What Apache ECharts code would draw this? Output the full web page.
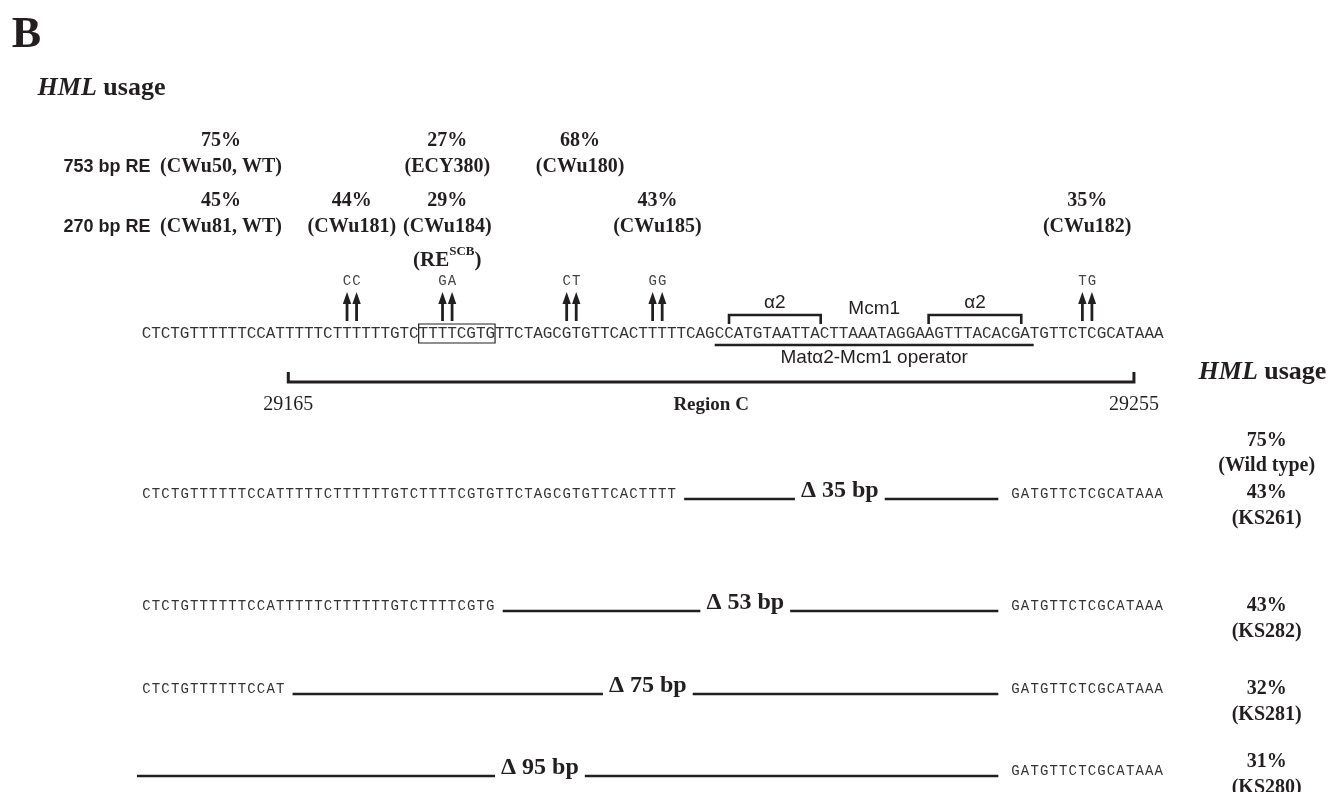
<!DOCTYPE html>
<html>
<head>
<meta charset="utf-8">
<script src="https://cdn.jsdelivr.net/npm/echarts@6/dist/echarts.min.js"></script>
<style>
  html, body { margin: 0; padding: 0; background: #fff; }
  #chart { width: 1330px; height: 792px; }
</style>
</head>
<body>
<div id="chart"></div>
<script>
// HML region C sequence (x axis is in bases, 0 = first base shown)
const sequence = 'CTCTGTTTTTTCCATTTTTCTTTTTTGTCTTTTCGTGTTCTAGCGTGTTCACTTTTTCAGCCATGTAATTACTTAAATAGGAAGTTTACACGATGTTCTCGCATAAA';

// point mutations: new bases and index of the first changed base
const mutations = ['CC', 'GA', 'CT', 'GG', 'TG'];
const mutationAt = [21, 31, 44, 53, 98];

// HML usage with the 753 bp RE
const re753Pct = [75, 27, 68];
const re753Strain = ['CWu50, WT', 'ECY380', 'CWu180'];
const re753Site = [-1, 1, 2];      // index into mutations, -1 = wild type

// HML usage with the 270 bp RE
const re270Pct = [45, 44, 29, 43, 35];
const re270Strain = ['CWu81, WT', 'CWu181', 'CWu184', 'CWu185', 'CWu182'];
const re270Site = [-1, 0, 1, 3, 4];

// features on the sequence (bases)
const scbBox = [29, 37];
const alpha2Sites = [[61.5, 71.1], [82.4, 92.1]];
const operatorSpan = [60, 93.4];
const regionCCoords = [29165, 29255];
const regionCSpan = [15.35, 103.9];

// deletions
const wildTypePct = 75;
const deletionBp = [35, 53, 75, 95];
const deletionKeepLeft = [56, 37, 15, 0];
const deletionKeepRight = 91;
const deletionLabelAt = [73.1, 63.2, 53.0, 41.7];
const deletionPct = [43, 43, 32, 31];
const deletionStrain = ['KS261', 'KS282', 'KS281', 'KS280'];

// ---- layout ----
const INK = '#231f20';
const X = { letter: -13.6, heading: -10.9, reLabel: -8.2, wt: 8.3, col: 117.8, colRight: 124.05 };
const Y = {
  letter: 36, heading: 88,
  pct753: 141, str753: 167, pct270: 201, str270: 227, scb: 261,
  mut: 281, arrowTop: 292, arrowBottom: 321,
  alpha: 303, mcm1: 309, bracketTop: 315, bracketBottom: 324,
  seq: 334, boxTop: 324, boxBottom: 343, underline: 345, operator: 358,
  regionTick: 372, region: 382, regionText: 405,
  rightHeading: 372, wtPct: 441, wtStr: 466,
  rows: [494, 606, 689, 771], rowPct: [493, 606, 689, 762]
};
const serif = '"Liberation Serif", "Times New Roman", serif';
const sans = '"Liberation Sans", Arial, sans-serif';
const mono = '"Liberation Mono", "Courier New", monospace';
const F = {
  letter: 'bold 44px ' + serif,
  reLabel: 'bold 18px ' + sans,
  pct: 'bold 20px ' + serif,
  mut: '14px ' + mono,
  seq: '16px ' + mono,
  seqSmall: '14px ' + mono,
  sans: '19px ' + sans,
  coord: '20px ' + serif,
  region: 'bold 19px ' + serif,
  delta: 'bold 24px ' + serif
};
const headingRich = {
  h: { fontFamily: serif, fontSize: 26, fontWeight: 'bold', fontStyle: 'italic', fill: INK },
  u: { fontFamily: serif, fontSize: 26, fontWeight: 'bold', fill: INK }
};

// ---- build text items ----
const labels = [];
function addText(b, y, text, font, align, extra) {
  labels.push(Object.assign({ b: b, y: y, text: text, font: font, align: align || 'center' }, extra || {}));
}
addText(X.letter, Y.letter, 'B', F.letter, 'left');
addText(X.heading, Y.heading, '{h|HML}{u| usage}', null, 'left', { rich: headingRich });
addText(X.reLabel, Y.str753, '753 bp RE', F.reLabel, 'left');
addText(X.reLabel, Y.str270, '270 bp RE', F.reLabel, 'left');

function siteX(s) { return s < 0 ? X.wt : mutationAt[s] + 1; }
re753Pct.forEach(function (p, i) {
  const b = re753Site[i] === 2 ? siteX(2) + 0.9 : siteX(re753Site[i]);
  addText(b, Y.pct753, p + '%', F.pct);
  addText(b, Y.str753, '(' + re753Strain[i] + ')', F.pct);
});
re270Pct.forEach(function (p, i) {
  const b = siteX(re270Site[i]);
  addText(b, Y.pct270, p + '%', F.pct);
  addText(b, Y.str270, '(' + re270Strain[i] + ')', F.pct);
});
addText(siteX(1), Y.scb, '{a|(RE}{s|SCB}{a|)}', null, 'center', {
  rich: {
    a: { fontFamily: serif, fontSize: 21, fontWeight: 'bold', fill: INK, height: 28, verticalAlign: 'bottom' },
    s: { fontFamily: serif, fontSize: 13, fontWeight: 'bold', fill: INK, height: 10, verticalAlign: 'top' }
  }
});
mutations.forEach(function (m, i) {
  addText(mutationAt[i] + 0.5, Y.mut, m[0], F.mut, 'center', { fill: '#444' });
  addText(mutationAt[i] + 1.5, Y.mut, m[1], F.mut, 'center', { fill: '#444' });
});
alpha2Sites.forEach(function (s) {
  addText((s[0] + s[1]) / 2, Y.alpha, 'α2', F.sans);
});
addText((operatorSpan[0] + operatorSpan[1]) / 2, Y.mcm1, 'Mcm1', F.sans);
addText((operatorSpan[0] + operatorSpan[1]) / 2, Y.operator, 'Matα2-Mcm1 operator', F.sans);

// full sequence, one base per slot on the axis
sequence.split('').forEach(function (ch, i) {
  addText(i + 0.5, Y.seq, ch, F.seq, 'center', { fill: '#333' });
});
addText(regionCSpan[0], Y.regionText, String(regionCCoords[0]), F.coord);
addText(regionCSpan[1], Y.regionText, String(regionCCoords[1]), F.coord);
addText((regionCSpan[0] + regionCSpan[1]) / 2, Y.regionText, 'Region C', F.region);

addText(X.colRight, Y.rightHeading, '{h|HML}{u| usage}', null, 'right', { rich: headingRich });
addText(X.col, Y.wtPct, wildTypePct + '%', F.pct);
addText(X.col, Y.wtStr, '(Wild type)', F.pct);

const HALF_LABEL = 4.7;
const segments = [];   // [b1, y1, b2, y2, width]
deletionBp.forEach(function (d, r) {
  const y = Y.rows[r];
  for (let i = 0; i < deletionKeepLeft[r]; i++) {
    addText(i + 0.5, y, sequence[i], F.seqSmall, 'center', { fill: '#333' });
  }
  for (let i = deletionKeepRight; i < sequence.length; i++) {
    addText(i + 0.5, y, sequence[i], F.seqSmall, 'center', { fill: '#333' });
  }
  const la = deletionLabelAt[r];
  addText(la, y - 3, 'Δ ' + d + ' bp', F.delta);
  const start = deletionKeepLeft[r] > 0 ? deletionKeepLeft[r] + 0.8 : -0.5;
  const end = deletionKeepRight - 1.3;
  segments.push([start, y + 5, la - HALF_LABEL, y + 5, 2.6]);
  segments.push([la + HALF_LABEL, y + 5, end, y + 5, 2.6]);
  addText(X.col, Y.rowPct[r], deletionPct[r] + '%', F.pct);
  addText(X.col, Y.rowPct[r] + 26, '(' + deletionStrain[r] + ')', F.pct);
});
segments.push([operatorSpan[0], Y.underline, operatorSpan[1], Y.underline, 2.6]);

// bracket polylines
const brackets = alpha2Sites.map(function (s) {
  return { pts: [[s[0], Y.bracketBottom], [s[0], Y.bracketTop], [s[1], Y.bracketTop], [s[1], Y.bracketBottom]], w: 2.6 };
});
brackets.push({ pts: [[regionCSpan[0], Y.regionTick], [regionCSpan[0], Y.region], [regionCSpan[1], Y.region], [regionCSpan[1], Y.regionTick]], w: 3 });

// arrows: two per mutation
const arrowAt = [];
mutationAt.forEach(function (m) { arrowAt.push(m + 0.5, m + 1.5); });

const chart = echarts.init(document.getElementById('chart'));
chart.setOption({
  animation: false,
  backgroundColor: '#fff',
  grid: { left: 0, right: 0, top: 0, bottom: 0 },
  xAxis: { type: 'value', min: -141.7 / 9.55, max: (1330 - 141.7) / 9.55, show: false },
  yAxis: { type: 'value', min: 0, max: 792, inverse: true, show: false },
  series: [
    {
      type: 'custom', silent: true, clip: false,
      data: segments,
      renderItem: function (params, api) {
        const a = api.coord([api.value(0), api.value(1)]);
        const c = api.coord([api.value(2), api.value(3)]);
        return { type: 'line', shape: { x1: a[0], y1: a[1], x2: c[0], y2: c[1] }, style: { stroke: INK, lineWidth: api.value(4) } };
      }
    },
    {
      type: 'custom', silent: true, clip: false,
      data: brackets.map(function (b) { return b.pts[0]; }),
      renderItem: function (params, api) {
        const b = brackets[params.dataIndex];
        return { type: 'polyline', shape: { points: b.pts.map(function (p) { return api.coord(p); }) }, style: { stroke: INK, lineWidth: b.w, fill: null } };
      }
    },
    {
      type: 'custom', silent: true, clip: false,
      data: [[scbBox[0], Y.boxTop, scbBox[1], Y.boxBottom]],
      renderItem: function (params, api) {
        const a = api.coord([api.value(0), api.value(1)]);
        const c = api.coord([api.value(2), api.value(3)]);
        return { type: 'rect', shape: { x: a[0], y: a[1], width: c[0] - a[0], height: c[1] - a[1] }, style: { stroke: INK, lineWidth: 1.2, fill: null } };
      }
    },
    {
      type: 'custom', silent: true, clip: false,
      data: arrowAt.map(function (b) { return [b, Y.arrowBottom]; }),
      renderItem: function (params, api) {
        const bot = api.coord([api.value(0), Y.arrowBottom]);
        const top = api.coord([api.value(0), Y.arrowTop]);
        return {
          type: 'group', children: [
            { type: 'line', shape: { x1: bot[0], y1: bot[1], x2: top[0], y2: top[1] + 9 }, style: { stroke: INK, lineWidth: 2.8 } },
            { type: 'polygon', shape: { points: [[top[0], top[1]], [top[0] - 4.2, top[1] + 12], [top[0] + 4.2, top[1] + 12]] }, style: { fill: INK } }
          ]
        };
      }
    },
    {
      type: 'custom', silent: true, clip: false,
      data: labels.map(function (l) { return [l.b, l.y]; }),
      renderItem: function (params, api) {
        const l = labels[params.dataIndex];
        const p = api.coord([api.value(0), api.value(1)]);
        const style = { text: l.text, fill: l.fill || INK, align: l.align, verticalAlign: 'middle' };
        if (l.font) style.font = l.font;
        if (l.rich) style.rich = l.rich;
        return { type: 'text', x: p[0], y: p[1], style: style };
      }
    }
  ]
});
</script>
</body>
</html>
